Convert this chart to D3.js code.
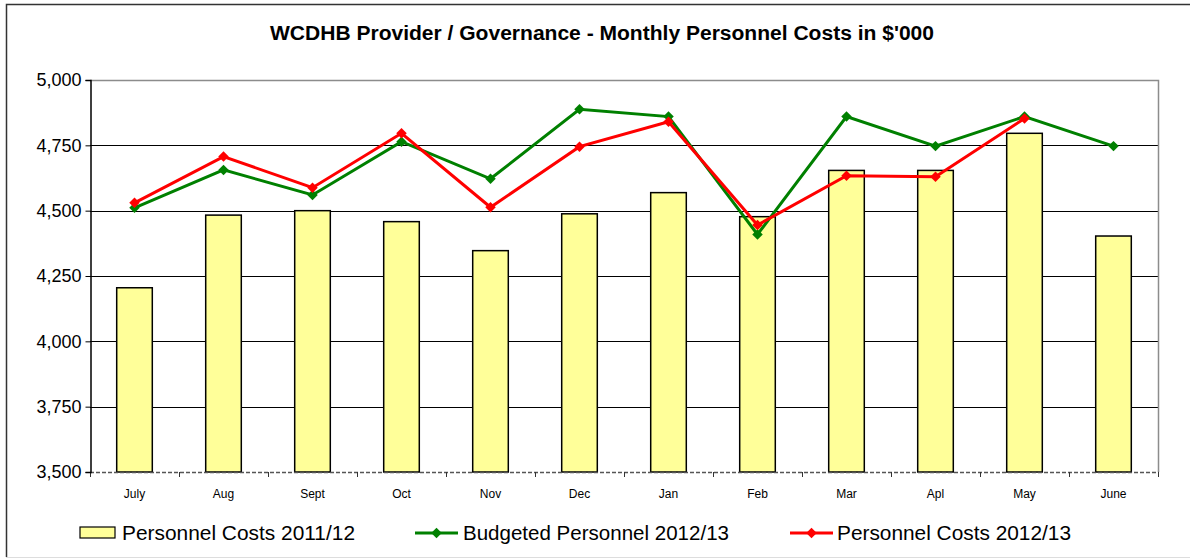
<!DOCTYPE html>
<html>
<head>
<meta charset="utf-8">
<script src="https://cdn.jsdelivr.net/npm/d3@7"></script>
<style>
body { margin: 0; background: #fff; }
svg { display: block; font-family: Arial, "Liberation Sans", sans-serif; }
</style>
</head>
<body>
<div id="chart"></div>
<script>
var months = ["July", "Aug", "Sept", "Oct", "Nov", "Dec", "Jan", "Feb", "Mar", "Apl", "May", "June"];
var costs1112 = [4205, 4483, 4500, 4458, 4347, 4488, 4569, 4477, 4654, 4654, 4796, 4403];
var budget1213 = [4511, 4656, 4560, 4764, 4622, 4888, 4860, 4409, 4860, 4747, 4860, 4747];
var costs1213 = [4530, 4707, 4588, 4796, 4513, 4745, 4840, 4445, 4634, 4630, 4853];
var yTicks = [3500, 3750, 4000, 4250, 4500, 4750, 5000];

var width = 1190, height = 559;
var margin = {left: 90, right: 32, top: 80, bottom: 87};

var svg = d3.select("#chart").append("svg")
    .attr("width", width)
    .attr("height", height);

// outer chart frame: dark left/top, light bottom
svg.append("path")
    .attr("d", "M6.5,557V4.5H1195")
    .attr("fill", "none")
    .attr("stroke", "#333")
    .attr("stroke-width", 1.5);
svg.append("line")
    .attr("x1", 6).attr("x2", width)
    .attr("y1", 557.5).attr("y2", 557.5)
    .attr("stroke", "#ddd");

var x = d3.scaleBand()
    .domain(months)
    .range([margin.left, width - margin.right])
    .paddingInner(0.6)
    .paddingOuter(0.3);

var y = d3.scaleLinear()
    .domain([3500, 5000])
    .range([height - margin.bottom, margin.top]);

var x0 = margin.left, x1 = width - margin.right;
var yBottom = y(3500), yTop = y(5000);
var step = (x1 - x0) / months.length;

// title
svg.append("text")
    .attr("x", 602).attr("y", 40)
    .attr("text-anchor", "middle")
    .attr("font-weight", "bold")
    .attr("font-size", 20)
    .attr("textLength", 664)
    .attr("lengthAdjust", "spacingAndGlyphs")
    .text("WCDHB Provider / Governance - Monthly Personnel Costs in $'000");

// gridlines
svg.append("g")
    .selectAll("line")
    .data(yTicks.filter(function(d) { return d > 3500 && d < 5000; }))
    .enter().append("line")
    .attr("x1", x0).attr("x2", x1)
    .attr("y1", function(d) { return Math.round(y(d)) + 0.5; })
    .attr("y2", function(d) { return Math.round(y(d)) + 0.5; })
    .attr("stroke", "#000")
    .attr("stroke-width", 1);

// plot frame (top + right, gray)
svg.append("path")
    .attr("d", "M" + x0 + "," + (yTop + 0.5) + "H" + (x1 + 0.5) + "V" + yBottom)
    .attr("fill", "none")
    .attr("stroke", "#8c8c8c")
    .attr("stroke-width", 1.5);

// bars
svg.append("g")
    .selectAll("rect")
    .data(costs1112)
    .enter().append("rect")
    .attr("x", function(d, i) { return x(months[i]); })
    .attr("y", function(d) { return y(d); })
    .attr("width", x.bandwidth())
    .attr("height", function(d) { return yBottom - y(d); })
    .attr("fill", "#ffff99")
    .attr("stroke", "#000")
    .attr("stroke-width", 1.5);

// bottom axis (dashed) with ticks between categories
svg.append("line")
    .attr("x1", x0).attr("x2", x1 + 1)
    .attr("y1", yBottom + 0.5).attr("y2", yBottom + 0.5)
    .attr("stroke", "#555")
    .attr("stroke-width", 1.5)
    .attr("stroke-dasharray", "4,2");

svg.append("g")
    .selectAll("line")
    .data(d3.range(months.length + 1))
    .enter().append("line")
    .attr("x1", function(i) { return Math.round(x0 + i * step) + 0.5; })
    .attr("x2", function(i) { return Math.round(x0 + i * step) + 0.5; })
    .attr("y1", yBottom).attr("y2", yBottom + 5)
    .attr("stroke", "#333");

svg.append("g")
    .selectAll("text")
    .data(months)
    .enter().append("text")
    .attr("x", function(d) { return x(d) + x.bandwidth() / 2; })
    .attr("y", 498)
    .attr("text-anchor", "middle")
    .attr("font-size", 12)
    .text(function(d) { return d; });

// left axis
var yAxis = svg.append("g")
    .attr("transform", "translate(" + (x0 + 0.5) + ",0)")
    .call(d3.axisLeft(y).tickValues(yTicks).tickSize(5).tickPadding(4)
        .tickFormat(d3.format(",")));
yAxis.select(".domain").attr("stroke", "#000").attr("stroke-width", 1.5);
yAxis.selectAll(".tick line").attr("stroke", "#000");
yAxis.selectAll(".tick text")
    .attr("font-size", 18)
    .attr("font-family", "Arial, 'Liberation Sans', sans-serif")
    .attr("fill", "#000");

// lines
var lineGen = d3.line()
    .x(function(d, i) { return x(months[i]) + x.bandwidth() / 2; })
    .y(function(d) { return y(d); });

var diamond = d3.symbol().type(d3.symbolDiamond2).size(70);

function drawSeries(data, color) {
    svg.append("path")
        .datum(data)
        .attr("d", lineGen)
        .attr("fill", "none")
        .attr("stroke", color)
        .attr("stroke-width", 3);
    svg.append("g")
        .selectAll("path")
        .data(data)
        .enter().append("path")
        .attr("d", diamond)
        .attr("transform", function(d, i) {
            return "translate(" + (x(months[i]) + x.bandwidth() / 2) + "," + y(d) + ")";
        })
        .attr("fill", color);
}

drawSeries(budget1213, "#008000");
drawSeries(costs1213, "#ff0000");

// legend
var legY = 533;
var legend = svg.append("g");

legend.append("rect")
    .attr("x", 80).attr("y", legY - 6)
    .attr("width", 35).attr("height", 11)
    .attr("fill", "#ffff99")
    .attr("stroke", "#000")
    .attr("stroke-width", 1.2);

legend.append("text")
    .attr("x", 122).attr("y", legY + 7)
    .attr("font-size", 20)
    .attr("textLength", 233)
    .attr("lengthAdjust", "spacingAndGlyphs")
    .text("Personnel Costs 2011/12");

var lineItems = [
    {label: "Budgeted Personnel 2012/13", color: "#008000", x: 415, tx: 463, tw: 266},
    {label: "Personnel Costs 2012/13", color: "#ff0000", x: 790, tx: 837, tw: 234}
];

lineItems.forEach(function(it) {
    legend.append("line")
        .attr("x1", it.x).attr("x2", it.x + 43)
        .attr("y1", legY).attr("y2", legY)
        .attr("stroke", it.color)
        .attr("stroke-width", 3);
    legend.append("path")
        .attr("d", diamond)
        .attr("transform", "translate(" + (it.x + 21.5) + "," + legY + ")")
        .attr("fill", it.color);
    legend.append("text")
        .attr("x", it.tx).attr("y", legY + 7)
        .attr("font-size", 20)
        .attr("textLength", it.tw)
        .attr("lengthAdjust", "spacingAndGlyphs")
        .text(it.label);
});
</script>
</body>
</html>
